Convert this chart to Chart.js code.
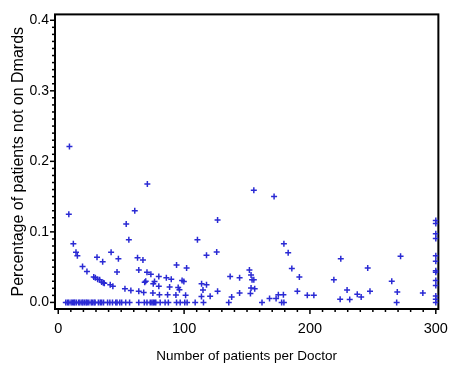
<!DOCTYPE html>
<html><head><meta charset="utf-8">
<script src="https://cdn.jsdelivr.net/npm/chart.js@4/dist/chart.umd.min.js"></script>
<style>html,body{margin:0;padding:0;background:#fff}#wrap{width:459px;height:380px}</style>
</head><body><div id="wrap"><canvas id="c" width="459" height="380"></canvas></div>
<script>
// Number of patients per doctor (x) and percentage not on DMARDs (y)
const patientsPerDoctor = [
  8.9, 8.4, 70.8, 60.8, 54.0, 56.1, 12.0, 14.1, 15.2, 19.3, 22.8, 28.2, 29.5, 31.3, 32.9, 34.5, 35.8, 36.6, 41.3, 43.4,
  30.8, 35.3, 42.0, 47.8, 46.7, 53.0, 57.7, 63.0, 67.3, 64.0, 64.0, 67.9, 68.7, 69.5, 70.5, 73.6, 75.5, 76.5, 75.2,
  79.9, 79.9, 80.4, 85.9, 89.8, 88.5, 86.9, 94.0, 95.3, 96.3, 98.4, 99.8, 93.5, 102.0, 101.2,
  110.6, 117.8, 125.9, 126.6, 113.9, 117.8, 115.0, 113.8, 120.7, 126.6, 136.6, 137.8, 144.1, 144.1,
  151.9, 153.2, 154.0, 155.4, 153.2, 156.1, 152.7, 155.4, 171.5, 167.9, 173.1, 174.9, 178.9,
  179.3, 182.7, 185.6, 191.6, 190.0, 197.9, 203.1, 219.0, 224.5, 224.0, 229.5, 231.6, 237.6, 240.7,
  245.9, 247.7, 265.0, 272.0, 269.4, 289.7,
  300, 300, 300, 300, 300, 300, 300, 300, 300, 300, 300, 300,
  6.0, 7.4, 8.4, 10.2, 11.3, 12.3, 13.1, 14.4, 16.2, 17.2, 18.8, 19.6, 20.9, 22.2, 23.0, 24.3, 26.2, 27.2, 28.5, 29.3,
  31.9, 33.4, 34.5, 36.0, 39.2, 41.0, 43.1, 45.7, 46.7, 48.9, 50.4, 53.6, 56.7, 64.0, 68.4, 70.5, 73.1, 74.4, 75.5, 76.5,
  77.5, 81.0, 84.9, 87.5, 94.0, 96.9, 100.5, 102.4, 108.8, 115.4, 135.5, 161.9, 177.5, 179.3, 268.9, 300
];
const pctNotOnDmards = [
  0.221, 0.125, 0.168, 0.130, 0.111, 0.089, 0.083, 0.071, 0.066, 0.051, 0.044, 0.036, 0.035, 0.033, 0.032, 0.029, 0.028, 0.027, 0.025, 0.023,
  0.064, 0.0575, 0.071, 0.062, 0.043, 0.0195, 0.017, 0.0635, 0.060, 0.046, 0.0157, 0.014, 0.0287, 0.030, 0.0426, 0.040, 0.0264, 0.0295, 0.0134,
  0.0366, 0.023, 0.011, 0.0348, 0.0330, 0.0220, 0.011, 0.053, 0.021, 0.018, 0.031, 0.0297, 0.0106, 0.0487, 0.010,
  0.089, 0.0668, 0.0714, 0.117, 0.0264, 0.025, 0.0176, 0.0083, 0.0088, 0.0157, 0.0366, 0.0078, 0.0348, 0.0134,
  0.046, 0.039, 0.032, 0.032, 0.0203, 0.0195, 0.0125, 0.159, 0.150, 0.0056, 0.0056, 0.011, 0.011,
  0.083, 0.0705, 0.048, 0.036, 0.016, 0.010, 0.010, 0.032, 0.062, 0.0046, 0.0175, 0.004, 0.0116, 0.0078,
  0.0487, 0.016, 0.030, 0.0654, 0.0148, 0.0134,
  0.116, 0.112, 0.0975, 0.0905, 0.066, 0.0585, 0.045, 0.0426, 0.031, 0.024, 0.0092, 0.0046,
  0, 0, 0, 0, 0, 0, 0, 0, 0, 0, 0, 0, 0, 0, 0, 0, 0, 0, 0, 0,
  0, 0, 0, 0, 0, 0, 0, 0, 0, 0, 0, 0, 0, 0, 0, 0, 0, 0, 0, 0,
  0, 0, 0, 0, 0, 0, 0, 0, 0, 0, 0, 0, 0, 0, 0, 0
];
const xMajorTicks = [0, 100, 200, 300];
const xTickLabels = ['0', '100', '200', '300'];
const yMajorTicks = [0, 0.1, 0.2, 0.3, 0.4];
const yTickLabels = ['0.0', '0.1', '0.2', '0.3', '0.4'];
const xMinorStep = 10;
const yMinorStep = 0.01;
const xTitle = 'Number of patients per Doctor';
const yTitle = 'Percentage of patients not on Dmards';

const points = patientsPerDoctor.map((x, i) => ({ x: x, y: pctNotOnDmards[i] }));
const near = (a, b) => Math.abs(a - b) < 1e-7;

function buildTicks(majors, step) {
  const first = majors[0], last = majors[majors.length - 1];
  const n = Math.round((last - first) / step);
  const out = [];
  for (let i = 0; i <= n; i++) out.push({ value: Math.round((first + i * step) * 1e6) / 1e6 });
  return out;
}

const frameTicks = {
  id: 'frameTicks',
  beforeDatasetsDraw(chart) {
    const { ctx, chartArea: a, scales } = chart;
    ctx.save();
    ctx.strokeStyle = '#000';
    ctx.lineWidth = 2;
    ctx.strokeRect(a.left, a.top, a.right - a.left, a.bottom - a.top);
    ctx.lineWidth = 1.5;
    scales.x.ticks.forEach(t => {
      const px = scales.x.getPixelForValue(t.value);
      const major = xMajorTicks.some(m => near(m, t.value));
      ctx.beginPath(); ctx.moveTo(px, a.bottom); ctx.lineTo(px, a.bottom + (major ? 5 : 3)); ctx.stroke();
    });
    scales.y.ticks.forEach(t => {
      const py = scales.y.getPixelForValue(t.value);
      const major = yMajorTicks.some(m => near(m, t.value));
      ctx.beginPath(); ctx.moveTo(a.left, py); ctx.lineTo(a.left - (major ? 5 : 3), py); ctx.stroke();
    });
    ctx.restore();
  }
};

const regular = "'Liberation Sans', Arial, sans-serif";

new Chart(document.getElementById('c'), {
  type: 'scatter',
  data: {
    datasets: [{
      data: points,
      pointStyle: 'cross',
      pointRadius: 3,
      pointHoverRadius: 3,
      borderColor: '#2a2ad4',
      backgroundColor: '#2a2ad4',
      borderWidth: 1.5
    }]
  },
  options: {
    responsive: false,
    devicePixelRatio: 1,
    animation: false,
    events: [],
    layout: { padding: { left: 0, right: 15, top: 9, bottom: 0 } },
    plugins: { legend: { display: false }, tooltip: { enabled: false } },
    scales: {
      x: {
        type: 'linear',
        min: -2.58, max: 302.04,
        afterBuildTicks: s => { s.ticks = buildTicks(xMajorTicks, xMinorStep); },
        afterFit: s => { s.height = 71; },
        grid: { display: false, drawTicks: false },
        border: { display: false },
        ticks: {
          autoSkip: false, maxRotation: 0, padding: 11, color: '#000',
          font: { family: regular, size: 14.5 },
          callback: v => { const i = xMajorTicks.findIndex(m => near(m, v)); return i >= 0 ? xTickLabels[i] : ''; }
        },
        title: { display: true, text: xTitle, color: '#000', font: { family: regular, size: 13.5 }, padding: { top: 0, bottom: 16 } }
      },
      y: {
        type: 'linear',
        min: -0.00933, max: 0.40833,
        afterBuildTicks: s => { s.ticks = buildTicks(yMajorTicks, yMinorStep); },
        afterFit: s => { s.width = 55; },
        grid: { display: false, drawTicks: false },
        border: { display: false },
        ticks: {
          autoSkip: false, padding: 6, color: '#000',
          font: { family: regular, size: 14 },
          callback: v => { const i = yMajorTicks.findIndex(m => near(m, v)); return i >= 0 ? yTickLabels[i] : ''; }
        },
        title: { display: true, text: yTitle, color: '#000', font: { family: regular, size: 16 }, padding: { top: 9, bottom: 0 } }
      }
    }
  },
  plugins: [frameTicks]
});
</script>
</body></html>
